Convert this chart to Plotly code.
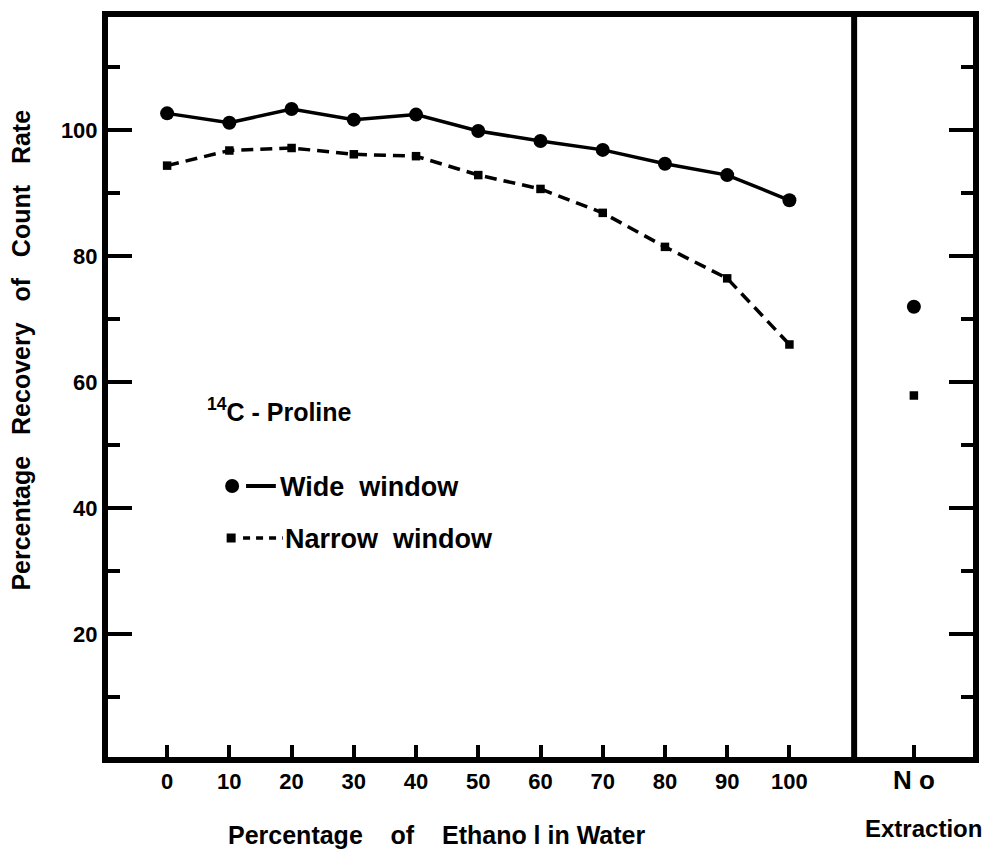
import plotly.graph_objects as go

# Ethanol concentration in the extraction solvent (%)
ethanol_pct = [0, 10, 20, 30, 40, 50, 60, 70, 80, 90, 100]

# Percentage recovery of count rate, 14C-proline
wide_window = [102.7, 101.2, 103.4, 101.7, 102.5, 99.9, 98.3, 96.9, 94.7, 92.9, 88.9]
narrow_window = [94.4, 96.8, 97.2, 96.2, 95.9, 92.9, 90.7, 86.9, 81.5, 76.5, 66.0]

# Unextracted samples, plotted in their own panel on the right
no_extraction_x = [120]
no_extraction_wide = [72.0]
no_extraction_narrow = [57.9]

x_tick_vals = [0, 10, 20, 30, 40, 50, 60, 70, 80, 90, 100, 120]
x_tick_text = ["0", "10", "20", "30", "40", "50", "60", "70", "80", "90", "100",
               '<span style="font-size:26px">N\u00a0o</span>']
y_major = [20, 40, 60, 80, 100]
y_minor = [10, 30, 50, 70, 90, 110]

W, H = 990, 855
L, R, T, B = 108, 979, 17, 757   # inner plot-area edges in pixels
FONT = "Liberation Sans"
INK = "black"


def px(xp):
    return (xp - L) / (R - L)


def py(yp):
    return (B - yp) / (B - T)


fig = go.Figure()

fig.add_trace(go.Scatter(
    x=ethanol_pct, y=wide_window, mode="lines+markers",
    line=dict(color=INK, width=3.5),
    marker=dict(symbol="circle", size=14, color=INK),
    showlegend=False, name="Wide window"))

fig.add_trace(go.Scatter(
    x=ethanol_pct, y=narrow_window, mode="lines+markers",
    line=dict(color=INK, width=3.5, dash="12px,7px"),
    marker=dict(symbol="square", size=8.5, color=INK),
    showlegend=False, name="Narrow window"))

fig.add_trace(go.Scatter(
    x=no_extraction_x, y=no_extraction_wide, mode="markers",
    marker=dict(symbol="circle", size=14, color=INK),
    showlegend=False))

fig.add_trace(go.Scatter(
    x=no_extraction_x, y=no_extraction_narrow, mode="markers",
    marker=dict(symbol="square", size=8.5, color=INK),
    showlegend=False))

shapes = []
# panel divider between the ethanol series and the unextracted samples
shapes.append(dict(type="line", xref="x", yref="paper", x0=110.4, x1=110.4,
                   y0=0, y1=1, line=dict(color=INK, width=6)))

# legend key: filled circle + solid line, small square + dashes
shapes.append(dict(type="circle", xref="paper", yref="paper",
                   xsizemode="pixel", ysizemode="pixel",
                   xanchor=px(233), yanchor=py(486),
                   x0=-7, x1=7, y0=-7, y1=7,
                   fillcolor=INK, line=dict(color=INK, width=0)))
shapes.append(dict(type="line", xref="paper", yref="paper",
                   x0=px(247), x1=px(277), y0=py(486), y1=py(486),
                   line=dict(color=INK, width=4)))
shapes.append(dict(type="rect", xref="paper", yref="paper",
                   xsizemode="pixel", ysizemode="pixel",
                   xanchor=px(232), yanchor=py(538),
                   x0=-4.5, x1=4.5, y0=-4.5, y1=4.5,
                   fillcolor=INK, line=dict(color=INK, width=0)))
shapes.append(dict(type="line", xref="paper", yref="paper",
                   x0=px(244), x1=px(284), y0=py(538), y1=py(538),
                   line=dict(color=INK, width=3.5, dash="7px,6px")))

annotations = []
annotations.append(dict(xref="paper", yref="paper", x=px(206), y=py(410),
                        xanchor="left", yanchor="middle", showarrow=False,
                        text="<sup>14</sup>C - Proline",
                        font=dict(family=FONT, size=25, color=INK, weight=700)))
annotations.append(dict(xref="paper", yref="paper", x=px(279), y=py(487),
                        xanchor="left", yanchor="middle", showarrow=False,
                        text="Wide\u00a0\u00a0window",
                        font=dict(family=FONT, size=27, color=INK, weight=700)))
annotations.append(dict(xref="paper", yref="paper", x=px(284), y=py(539),
                        xanchor="left", yanchor="middle", showarrow=False,
                        text="Narrow\u00a0\u00a0window",
                        font=dict(family=FONT, size=27, color=INK, weight=700)))
# second line of the right-hand panel label
annotations.append(dict(xref="paper", yref="paper", x=px(929), y=py(828),
                        xanchor="center", yanchor="middle", showarrow=False,
                        text="Extraction",
                        font=dict(family=FONT, size=24, color=INK, weight=700)))
# axis titles
annotations.append(dict(xref="paper", yref="paper", x=px(439), y=py(835),
                        xanchor="center", yanchor="middle", showarrow=False,
                        text="Percentage\u00a0\u00a0\u00a0\u00a0of\u00a0\u00a0\u00a0\u00a0Ethano l in Water",
                        font=dict(family=FONT, size=25, color=INK, weight=700)))
annotations.append(dict(xref="paper", yref="paper", x=px(20), y=py(350),
                        xanchor="center", yanchor="middle", showarrow=False,
                        textangle=-90,
                        text="Percentage\u00a0\u00a0\u00a0Recovery\u00a0\u00a0\u00a0of\u00a0\u00a0\u00a0Count\u00a0\u00a0\u00a0Rate",
                        font=dict(family=FONT, size=25, color=INK, weight=700)))

fig.update_layout(
    width=W, height=H,
    margin=dict(l=L, r=W - R, t=T, b=H - B, pad=0),
    paper_bgcolor="white", plot_bgcolor="white",
    shapes=shapes, annotations=annotations,
    xaxis=dict(
        range=[-9.5, 129.5], showgrid=False, zeroline=False,
        showline=True, linecolor=INK, linewidth=6, mirror=True,
        tickmode="array", tickvals=x_tick_vals, ticktext=x_tick_text,
        ticks="inside", ticklen=12, tickwidth=4, tickcolor=INK,
        tickfont=dict(family=FONT, size=22, color=INK, weight=700),
    ),
    yaxis=dict(
        range=[0.5, 118], showgrid=False, zeroline=False,
        showline=True, linecolor=INK, linewidth=6, mirror="ticks",
        tickmode="array", tickvals=y_major,
        ticks="inside", ticklen=24, tickwidth=4, tickcolor=INK,
        tickfont=dict(family=FONT, size=22, color=INK, weight=700),
        minor=dict(tickmode="array", tickvals=y_minor, ticks="inside",
                   ticklen=12, tickwidth=4, tickcolor=INK, showgrid=False),
    ),
)

fig.write_html("out.html")
